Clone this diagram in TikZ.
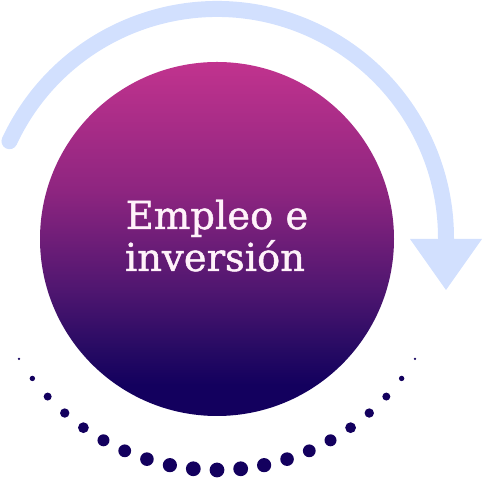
\documentclass[tikz,border=0pt]{standalone}
\usepackage{fontspec}
\setmainfont{DejaVu Serif}
\newfontfamily\titlefont[FakeBold=1.2]{DejaVu Serif}
\usetikzlibrary{arrows.meta}

\definecolor{cycleblue}{HTML}{D2E0FE}
\definecolor{deepnavy}{HTML}{13005E}
\definecolor{navypurple}{HTML}{260A63}
\definecolor{midpurple}{HTML}{4F1670}
\definecolor{plum}{HTML}{8E2580}
\definecolor{topmagenta}{HTML}{C1338E}
\definecolor{labelwhite}{HTML}{FFF2FA}

\pgfdeclareverticalshading{spheregrad}{100bp}{color(0bp)=(deepnavy); color(29.4bp)=(deepnavy); color(34.3bp)=(navypurple); color(42.8bp)=(midpurple); color(56.9bp)=(plum); color(75bp)=(topmagenta); color(100bp)=(topmagenta)}

\begin{document}
\begin{tikzpicture}[x=1pt, y=1pt,
    cyclearrow/.style={draw=cycleblue, line width=16pt, line cap=round,
      -{Triangle[width=72pt, length=51pt, line width=0pt]}},
    titletext/.style={anchor=base, inner sep=0pt, text=labelwhite,
      font=\titlefont\fontsize{38.5}{44}\selectfont},
    navydot/.style={fill=deepnavy}]
  \useasboundingbox (0,0) rectangle (485,478);
  \coordinate (centre) at (217,240);

  % light arrow round the top
  \draw[cyclearrow] (centre) ++(155:229) arc[start angle=155, end angle=0, radius=229] -- ++(0,-52);

  % main disc and its title
  \shade[shading=spheregrad] (217,239) circle[radius=177];
  \node[titletext] (topline) at (217,249) {Empleo e};
  \node[titletext] (bottomline) at (215,207) {inversión};

  % dots under the disc
  \foreach \r [count=\i from 0] in {1.3,2.7,4,4.7,5.4,6,6.4,6.8,7.1,7.4,7.4,7.4,7.1,6.8,6.4,6,5.4,4.7,4,2.7,1.3}
    \fill[navydot] (centre) ++({211.4+5.86*\i}:232) circle[radius=\r];
\end{tikzpicture}
\end{document}
